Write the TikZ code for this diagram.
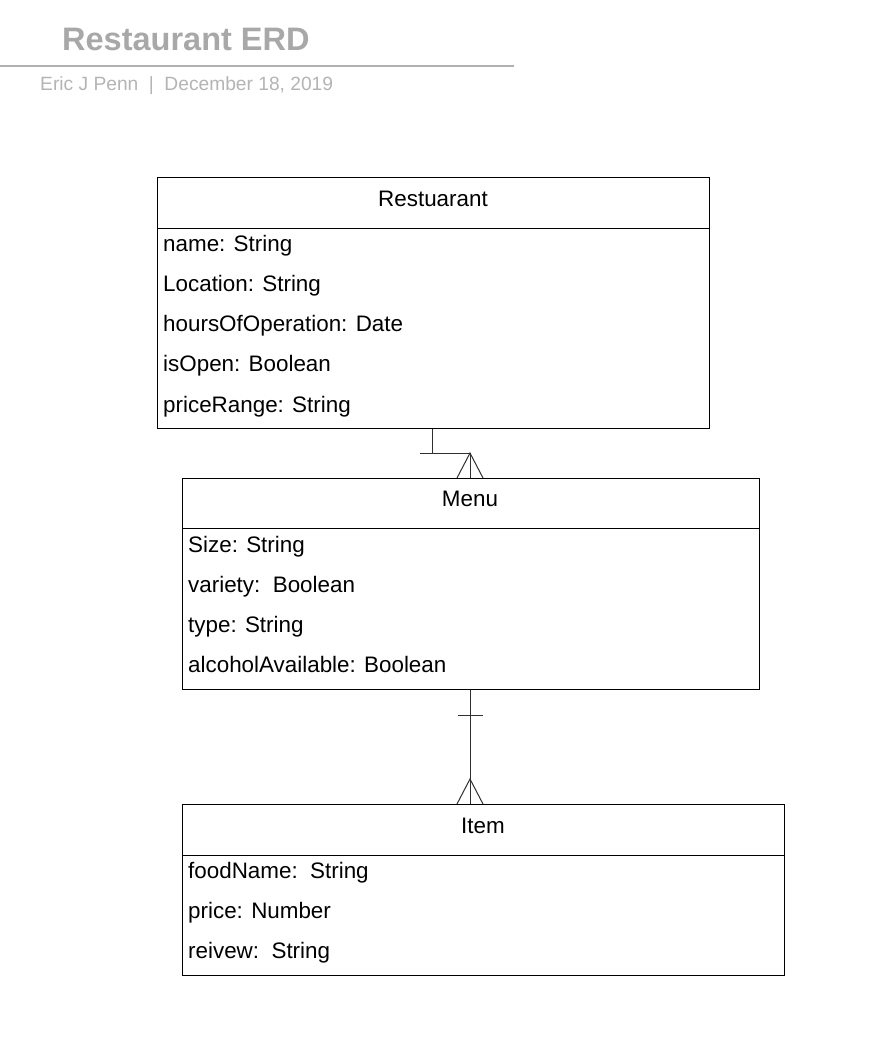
\documentclass[tikz,border=0pt]{standalone}
\usepackage{fontspec}
\setmainfont{Liberation Sans}
\usetikzlibrary{calc}
\definecolor{headgray}{HTML}{A8A8A8}
\definecolor{subgray}{HTML}{B4B4B4}
\definecolor{rulegray}{HTML}{B0B0B0}
\definecolor{linkgray}{HTML}{303030}
\begin{document}
\begin{tikzpicture}[x=1pt,y=-1pt,
  entity/.style={draw=black,line width=1pt,rectangle,anchor=north west,inner sep=0pt},
  attr/.style={anchor=base west,inner sep=0pt,font=\fontsize{22.4}{25}\selectfont},
  etitle/.style={anchor=base,inner sep=0pt,font=\fontsize{22.4}{25}\selectfont},
  link/.style={draw=linkgray,line width=1pt}]
\useasboundingbox (0,0) rectangle (876,1052);

% page heading
\node[anchor=base west,inner sep=0pt,text=headgray,font=\bfseries\fontsize{32.5}{36}\selectfont] (title) at (62,50) {Restaurant ERD};
\draw[rulegray,line width=2pt] (0,66) -- (514,66);
\node[anchor=base west,inner sep=0pt,text=subgray,font=\fontsize{19.2}{22}\selectfont] (byline) at (40,90) {Eric J Penn\hspace{0.55em}|\hspace{0.55em}December 18, 2019};

% Restuarant entity
\node[entity,minimum width=552pt,minimum height=251pt] (rest) at (157,177) {};
\draw[line width=1pt] (157,228) -- (709,228);
\node[etitle] (restT) at (433,206) {Restuarant};
\node[attr] (r1) at (163,251) {name: String};
\node[attr] (r2) at (163,291) {Location: String};
\node[attr] (r3) at (163,331) {hoursOfOperation: Date};
\node[attr] (r4) at (163,371) {isOpen: Boolean};
\node[attr] (r5) at (163,412) {priceRange: String};

% Menu entity
\node[entity,minimum width=577pt,minimum height=211pt] (menu) at (182,478) {};
\draw[line width=1pt] (182,528) -- (759,528);
\node[etitle] (menuT) at (470,506) {Menu};
\node[attr] (m1) at (188,552) {Size: String};
\node[attr] (m2) at (188,592) {variety:\ \ Boolean};
\node[attr] (m3) at (188,632) {type: String};
\node[attr] (m4) at (188,672) {alcoholAvailable: Boolean};

% Item entity
\node[entity,minimum width=602pt,minimum height=171pt] (item) at (182,804) {};
\draw[line width=1pt] (182,855) -- (784,855);
\node[etitle] (itemT) at (483,833) {Item};
\node[attr] (i1) at (188,878) {foodName:\ \ String};
\node[attr] (i2) at (188,918) {price: Number};
\node[attr] (i3) at (188,958) {reivew:\ \ String};

% Restuarant (one) to Menu (many)
\coordinate (ra) at (432,0);
\coordinate (mb) at (470,0);
\coordinate (bend) at (0,453);
\draw[link] (rest.south -| ra) -- (ra |- bend) -- (mb |- bend) -- (menu.north -| mb);
\draw[link] ($(ra |- bend)+(-12,0)$) -- ($(ra |- bend)+(12,0)$);
\draw[link] ($(menu.north -| mb)+(-13,0)$) -- (mb |- bend) -- ($(menu.north -| mb)+(13,0)$);

% Menu (one) to Item (many)
\draw[link] (menu.south -| mb) -- (item.north -| mb);
\draw[link] ($(menu.south -| mb)+(-12,25)$) -- ($(menu.south -| mb)+(13,25)$);
\draw[link] ($(item.north -| mb)+(-13,0)$) -- ($(item.north -| mb)+(0,-25)$) -- ($(item.north -| mb)+(13,0)$);
\end{tikzpicture}
\end{document}
